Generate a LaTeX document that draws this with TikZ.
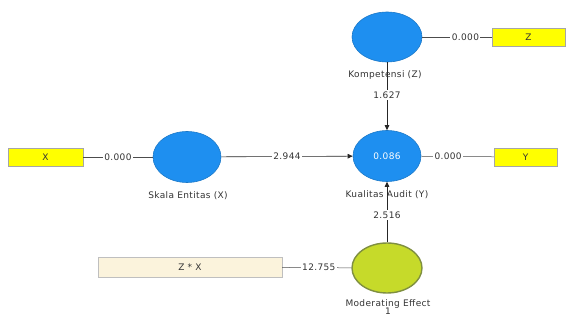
\documentclass[tikz,border=0pt]{standalone}
\usepackage{fontspec}
\setmainfont{DejaVu Sans}[LetterSpace=4]
\usetikzlibrary{shapes.geometric,arrows.meta}
\definecolor{lvblue}{HTML}{1E8FF0}
\definecolor{lvborder}{HTML}{1A78C8}
\definecolor{indy}{HTML}{FFFF00}
\definecolor{modfill}{HTML}{C6DA2A}
\definecolor{modborder}{HTML}{7F8F40}
\definecolor{cream}{HTML}{FBF3DC}
\definecolor{txt}{HTML}{333333}
\tikzset{
  fnt/.style={font=\fontsize{9}{10}\selectfont, text=txt},
  lv/.style={ellipse, fill=lvblue, draw=lvborder, line width=0.6pt, minimum width=68pt, minimum height=51pt, inner sep=0pt, fnt, text=white},
  modlv/.style={ellipse, fill=modfill, draw=modborder, line width=1.4pt, minimum width=70pt, minimum height=50pt, inner sep=0pt},
  ind/.style={rectangle, fill=indy, draw=gray!70, line width=0.4pt, minimum height=18pt, inner sep=0pt, fnt},
  indc/.style={rectangle, fill=cream, draw=gray!50, line width=0.4pt, minimum height=20pt, inner sep=0pt, fnt},
  lbl/.style={fill=white, inner sep=1.5pt, fnt},
  lvname/.style={inner sep=0pt, fnt},
  conn/.style={draw=black!70, line width=0.5pt},
  pathconn/.style={draw=black!85, line width=0.6pt, -{Triangle[length=5pt,width=4.5pt]}}
}
\begin{document}
\begin{tikzpicture}[x=1pt,y=-1pt]
\useasboundingbox (0,0) rectangle (566,320);
% nodes
\node[ind, minimum width=75pt] (X) at (45.5,157) {X};
\node[lv] (skala) at (187,157) {};
\node[lv] (kual) at (387,156) {0.086};
\node[lv, minimum width=70pt, minimum height=50pt] (komp) at (387,37) {};
\node[ind, minimum width=73pt] (Z) at (528.5,37) {Z};
\node[ind, minimum width=63pt] (Y) at (525.5,157) {Y};
\node[modlv] (mod) at (387,268) {};
\node[indc, minimum width=184pt] (zx) at (190,267) {Z * X};
% connectors
\draw[conn] (X) -- node[lbl] {0.000} (skala);
\draw[conn] (komp) -- node[lbl, pos=0.62] {0.000} (Z);
\draw[conn] (kual) -- node[lbl, pos=0.37] {0.000} (Y);
\draw[conn] (zx) -- node[lbl, pos=0.53] {12.755} (mod);
\draw[pathconn] (skala) -- node[lbl] {2.944} (kual);
\draw[pathconn] (komp) -- node[lbl, pos=0.48] {1.627} (kual);
\draw[pathconn] (mod) -- node[lbl, pos=0.45] {2.516} (kual);
% names
\node[lvname] (nskala) at (188,196) {Skala Entitas (X)};
\node[lvname] (nkomp) at (385,75) {Kompetensi (Z)};
\node[lvname] (nkual) at (387,195) {Kualitas Audit (Y)};
\node[lvname, align=center] (nmod) at (388,307) {Moderating Effect\\[-2pt]1};
\end{tikzpicture}
\end{document}
